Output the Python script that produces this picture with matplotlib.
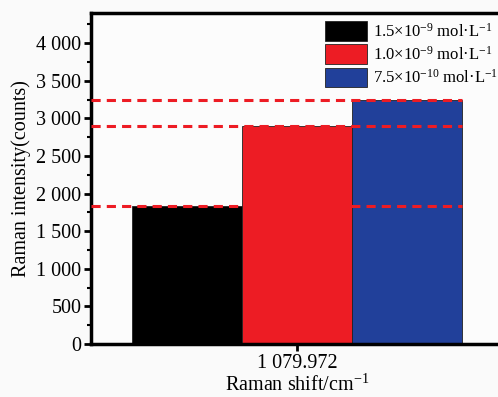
import numpy as np
import matplotlib.pyplot as plt
from matplotlib.ticker import MultipleLocator, FuncFormatter

# data
labels = ['1.5×10$^{-9}$ mol·L$^{-1}$',
          '1.0×10$^{-9}$ mol·L$^{-1}$',
          '7.5×10$^{-10}$ mol·L$^{-1}$']
intensity = [1840, 2900, 3250]
colors = ['#000000', '#ED1C24', '#21409A']
shift_label = '1 079.972'

plt.rcParams['font.family'] = 'Liberation Serif'
plt.rcParams['mathtext.fontset'] = 'custom'
plt.rcParams['mathtext.rm'] = 'Liberation Serif'
plt.rcParams['mathtext.it'] = 'Liberation Serif:italic'

fig = plt.figure(figsize=(4.98, 3.97), dpi=100, facecolor='#fafafa')
ax = fig.add_axes([91 / 498, 53 / 397, 412 / 498, 331 / 397])
ax.set_facecolor('#fcfcfc')

xpos = np.arange(len(intensity)) - 1.0
bars = ax.bar(xpos, intensity, width=1.0, color=colors, edgecolor='#222222',
              linewidth=0.6)
for b, lab in zip(bars, labels):
    b.set_label(lab)

xl = 1.873
ax.set_xlim(-xl, xl)
ax.set_ylim(0, 4400)
for v in intensity:
    ax.hlines(v, -xl, 1.5, colors='#ED1C24', linestyles=(0, (3, 2)),
              linewidth=2.2, zorder=3)

ax.yaxis.set_major_locator(MultipleLocator(500))
ax.yaxis.set_minor_locator(MultipleLocator(250))
ax.yaxis.set_major_formatter(FuncFormatter(lambda v, p: f'{int(v):,}'.replace(',', ' ')))
ax.set_xticks([0])
ax.set_xticklabels([shift_label])
ax.tick_params(axis='both', which='major', direction='out', length=5, width=2,
               labelsize=14.5, pad=2)
ax.tick_params(axis='y', which='minor', direction='out', length=3, width=1.5)

for s in ['left', 'top', 'bottom', 'right']:
    ax.spines[s].set_linewidth(2.5)

ax.set_ylabel('Raman intensity(counts)', fontsize=14.5, labelpad=4)
ax.set_xlabel('Raman shift/cm$^{-1}$', fontsize=14.5, labelpad=1.5)

leg = ax.legend(loc='upper left', bbox_to_anchor=(0.568, 0.975), frameon=False,
                fontsize=12, handlelength=2.5, handleheight=1.45,
                handletextpad=0.36, labelspacing=0.2, borderaxespad=0,
                borderpad=0)

fig.savefig('out.png', dpi=100, facecolor=fig.get_facecolor())
